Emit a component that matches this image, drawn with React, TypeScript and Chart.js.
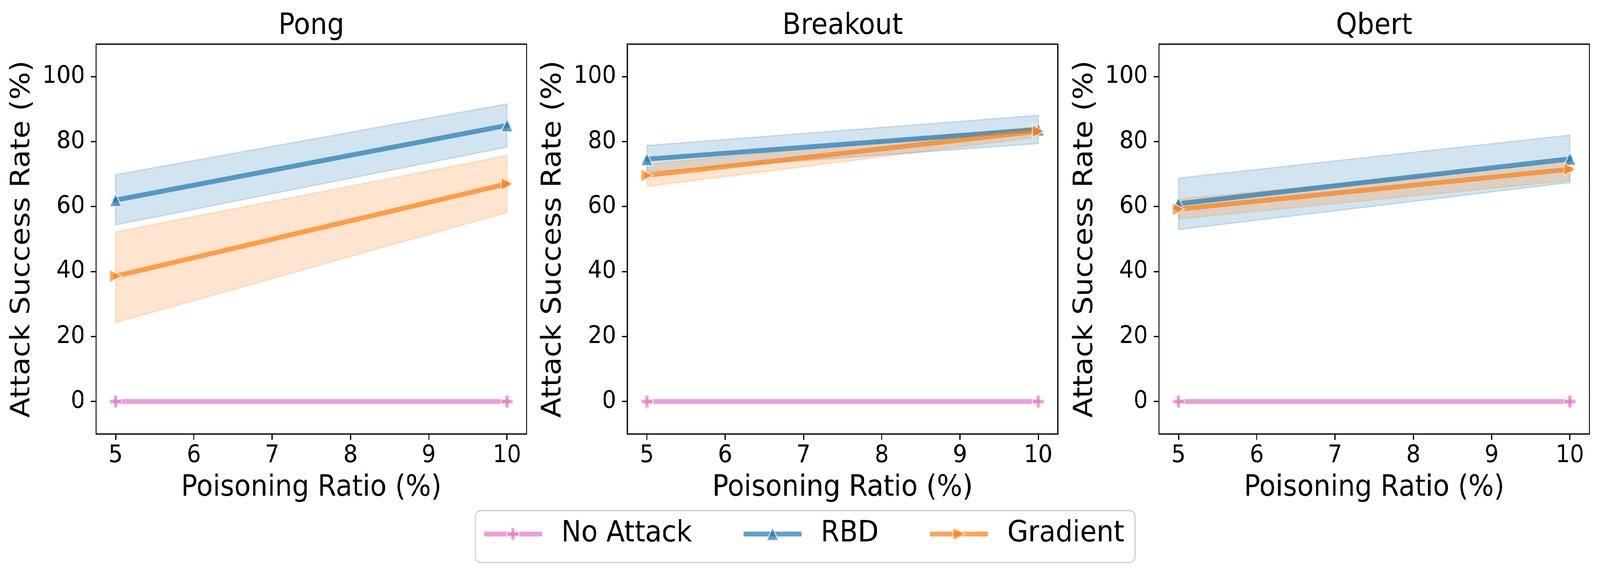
import React, { useEffect, useRef, useState } from 'react';
import { Chart, registerables } from 'chart.js';

Chart.register(...registerables);

// ---------------- data ----------------
const games = ['Pong', 'Breakout', 'Qbert'];
const seriesNames = ['No Attack', 'RBD', 'Gradient'];
const poisoningRatios = [5, 10];
const xTicks = [5, 6, 7, 8, 9, 10];
const yTicks = [0, 20, 40, 60, 80, 100];

// per game: [value at 5%, value at 10%]
const noAttackMean = [[0, 0], [0, 0], [0, 0]];
const rbdMean = [[62.0, 85.0], [74.6, 83.7], [60.9, 74.7]];
const rbdLow = [[54.4, 78.3], [70.6, 79.4], [52.9, 67.4]];
const rbdHigh = [[69.8, 91.6], [78.8, 88.1], [68.8, 82.0]];
const gradMean = [[38.6, 67.0], [69.6, 83.2], [59.2, 71.5]];
const gradLow = [[24.3, 58.2], [66.2, 81.4], [56.2, 68.0]];
const gradHigh = [[52.2, 75.7], [73.0, 84.6], [62.3, 73.8]];

// ---------------- style ----------------
const FONT = '"DejaVu Sans", sans-serif';
const W = 4471;
const H = 1477;
const panelLefts = [268.5, 1753, 3238.5];
const panelWidth = 1203;
const plotTop = 113;
const plotBottom = 1111;
const yAxisW = 260;
const xAxisH = 200;
const TICK_FS = 62.5;
const LABEL_FS = 75;

const PINK = [227, 119, 194];
const BLUE = [31, 119, 180];
const ORANGE = [255, 127, 14];
const rgba = (c: number[], a: number) => `rgba(${c[0]},${c[1]},${c[2]},${a})`;

const MS = 33;
function makeMarker(shape: 'up' | 'right' | 'plus', rgb: number[]) {
  const ew = 3;
  const pad = 6;
  const size = Math.ceil(MS + 2 * pad);
  const c = document.createElement('canvas');
  c.width = size;
  c.height = size;
  const ctx = c.getContext('2d')!;
  ctx.translate(size / 2, size / 2);
  const h = MS / 2;
  ctx.beginPath();
  if (shape === 'up') {
    ctx.moveTo(0, -h);
    ctx.lineTo(h, h);
    ctx.lineTo(-h, h);
  } else if (shape === 'right') {
    ctx.moveTo(h, 0);
    ctx.lineTo(-h, h);
    ctx.lineTo(-h, -h);
  } else {
    const a = MS / 6;
    const v = [[-1, -3], [1, -3], [1, -1], [3, -1], [3, 1], [1, 1], [1, 3], [-1, 3], [-1, 1], [-3, 1], [-3, -1], [-1, -1]];
    v.forEach((p, k) => (k === 0 ? ctx.moveTo(p[0] * a, p[1] * a) : ctx.lineTo(p[0] * a, p[1] * a)));
  }
  ctx.closePath();
  ctx.fillStyle = rgba(rgb, 0.7);
  ctx.fill();
  ctx.lineJoin = 'miter';
  ctx.lineWidth = ew;
  ctx.strokeStyle = 'rgba(255,255,255,0.7)';
  ctx.stroke();
  return c;
}

const pts = (ys: number[]) => poisoningRatios.map((x, k) => ({ x, y: ys[k] }));
const vEdge = (lo: number[], hi: number[], k: number) => [
  { x: poisoningRatios[k], y: lo[k] },
  { x: poisoningRatios[k], y: hi[k] },
];

function bandSets(lo: number[], hi: number[], col: number[], baseOrder: number) {
  const common = {
    borderColor: rgba(col, 0.2),
    borderWidth: 3.5,
    pointRadius: 0,
    pointHoverRadius: 0,
    tension: 0,
  };
  return [
    { ...common, label: 'band-hi', data: pts(hi), fill: '+1', backgroundColor: rgba(col, 0.2), order: baseOrder },
    { ...common, label: 'band-lo', data: pts(lo), fill: false, order: baseOrder - 0.1 },
    { ...common, label: 'band-e0', data: vEdge(lo, hi, 0), fill: false, order: baseOrder - 0.2 },
    { ...common, label: 'band-e1', data: vEdge(lo, hi, 1), fill: false, order: baseOrder - 0.3 },
  ];
}

function lineSet(label: string, ys: number[], col: number[], marker: HTMLCanvasElement, order: number) {
  return {
    label,
    data: pts(ys),
    borderColor: rgba(col, 0.7),
    backgroundColor: rgba(col, 0.7),
    borderWidth: 12.5,
    borderCapStyle: 'square',
    fill: false,
    tension: 0,
    pointStyle: marker,
    pointRadius: 10,
    pointHoverRadius: 10,
    order,
  };
}

const framePlugin = {
  id: 'frame',
  afterDatasetsDraw(chart: any) {
    const { ctx, chartArea: a } = chart;
    ctx.save();
    ctx.strokeStyle = '#000';
    ctx.lineWidth = 3.3;
    ctx.strokeRect(a.left, a.top, a.right - a.left, a.bottom - a.top);
    ctx.restore();
  },
};

const makeTitlePlugin = (title: string) => ({
  id: 'panelTitle',
  afterDraw(chart: any) {
    const { ctx, chartArea: a } = chart;
    ctx.save();
    ctx.font = `${LABEL_FS}px ${FONT}`;
    ctx.fillStyle = '#000';
    ctx.textAlign = 'center';
    ctx.textBaseline = 'alphabetic';
    ctx.fillText(title, (a.left + a.right) / 2, a.top - 26);
    ctx.restore();
  },
});

const makeLegendPlugin = (markers: HTMLCanvasElement[], colors: number[][]) => ({
  id: 'figLegend',
  afterDraw(chart: any) {
    const { ctx } = chart;
    const fs = LABEL_FS;
    ctx.save();
    ctx.font = `${fs}px ${FONT}`;
    const widths = seriesNames.map((s) => ctx.measureText(s).width);
    const bp = 0.4 * fs;
    const hl = 2 * fs;
    const htp = 0.8 * fs;
    const cs = 2 * fs;
    const total = 2 * bp + widths.reduce((s, w) => s + w + hl + htp, 0) + cs * (seriesNames.length - 1);
    const cx = 2250;
    const left = cx - total / 2;
    const top = 1307;
    const bottom = 1440;
    const rowY = 1367;
    ctx.beginPath();
    ctx.roundRect(left, top, total, bottom - top, 15);
    ctx.fillStyle = '#ffffff';
    ctx.fill();
    ctx.lineWidth = 4;
    ctx.strokeStyle = '#d6d6d6';
    ctx.stroke();
    let x = left + bp;
    seriesNames.forEach((name, k) => {
      ctx.beginPath();
      ctx.moveTo(x, rowY);
      ctx.lineTo(x + hl, rowY);
      ctx.lineWidth = 12.5;
      ctx.lineCap = 'square';
      ctx.strokeStyle = rgba(colors[k], 0.7);
      ctx.stroke();
      const m = markers[k];
      ctx.drawImage(m, x + hl / 2 - m.width / 2, rowY - m.height / 2);
      ctx.fillStyle = '#000';
      ctx.textAlign = 'left';
      ctx.textBaseline = 'middle';
      ctx.fillText(name, x + hl + htp, rowY);
      x += hl + htp + widths[k] + cs;
    });
    ctx.restore();
  },
});

function buildConfig(i: number, markers: HTMLCanvasElement[]) {
  const datasets: any[] = [
    ...bandSets(rbdLow[i], rbdHigh[i], BLUE, 9),
    ...bandSets(gradLow[i], gradHigh[i], ORANGE, 7),
    lineSet(seriesNames[0], noAttackMean[i], PINK, markers[0], 3),
    lineSet(seriesNames[1], rbdMean[i], BLUE, markers[1], 2),
    lineSet(seriesNames[2], gradMean[i], ORANGE, markers[2], 1),
  ];
  const tickFont = { family: FONT, size: TICK_FS };
  const titleFont = { family: FONT, size: LABEL_FS };
  const plugins: any[] = [framePlugin, makeTitlePlugin(games[i])];
  if (i === 1) plugins.push(makeLegendPlugin(markers, [PINK, BLUE, ORANGE]));
  const grid = {
    display: true,
    drawOnChartArea: false,
    drawTicks: true,
    tickLength: 15,
    tickWidth: 3.3,
    tickColor: '#000',
  };
  return {
    type: 'line',
    data: { datasets },
    plugins,
    options: {
      responsive: false,
      animation: false,
      devicePixelRatio: 1,
      events: [],
      layout: {
        autoPadding: false,
        padding: {
          left: panelLefts[i] - yAxisW,
          right: W - panelLefts[i] - panelWidth,
          top: plotTop,
          bottom: H - plotBottom - xAxisH,
        },
      },
      plugins: {
        legend: { display: false },
        tooltip: { enabled: false },
        title: { display: false },
      },
      scales: {
        x: {
          type: 'linear',
          min: 4.75,
          max: 10.25,
          afterBuildTicks: (s: any) => {
            s.ticks = xTicks.map((v) => ({ value: v }));
          },
          afterFit: (s: any) => {
            s.height = xAxisH;
          },
          ticks: {
            font: tickFont,
            color: '#000',
            padding: 3,
            maxRotation: 0,
            autoSkip: false,
            callback: (v: any) => String(v),
          },
          grid,
          border: { display: false },
          title: {
            display: true,
            text: 'Poisoning Ratio (%)',
            font: titleFont,
            color: '#000',
            padding: { top: 0, bottom: 16 },
          },
        },
        y: {
          type: 'linear',
          min: -10,
          max: 110,
          afterBuildTicks: (s: any) => {
            s.ticks = yTicks.map((v) => ({ value: v }));
          },
          afterFit: (s: any) => {
            s.width = yAxisW;
          },
          ticks: {
            font: tickFont,
            color: '#000',
            padding: 16,
            autoSkip: false,
            callback: (v: any) => String(v),
          },
          grid,
          border: { display: false },
          title: {
            display: true,
            text: 'Attack Success Rate (%)',
            font: titleFont,
            color: '#000',
            padding: { top: 9, bottom: 0 },
          },
        },
      },
    },
  };
}

export default function App() {
  const r0 = useRef<HTMLCanvasElement>(null);
  const r1 = useRef<HTMLCanvasElement>(null);
  const r2 = useRef<HTMLCanvasElement>(null);
  const refs = [r0, r1, r2];
  const [fit, setFit] = useState({ sx: 1, sy: 1 });

  useEffect(() => {
    const update = () => {
      const vw = window.innerWidth || W;
      const vh = window.innerHeight || H;
      setFit({ sx: Math.min(1, vw / W), sy: Math.min(1, vh / H) });
    };
    update();
    window.addEventListener('resize', update);
    return () => window.removeEventListener('resize', update);
  }, []);

  useEffect(() => {
    const markers = [makeMarker('plus', PINK), makeMarker('up', BLUE), makeMarker('right', ORANGE)];
    const charts = refs.map((r, i) => new Chart(r.current as HTMLCanvasElement, buildConfig(i, markers) as any));
    return () => charts.forEach((c) => c.destroy());
  }, []);

  return (
    <div style={{ position: 'fixed', left: 0, top: 0, width: '100vw', height: '100vh', background: '#ffffff', overflow: 'hidden' }}>
      <div
        style={{
          position: 'absolute',
          left: 0,
          top: 0,
          width: W,
          height: H,
          transformOrigin: '0 0',
          transform: `scale(${fit.sx}, ${fit.sy})`,
        }}
      >
        {games.map((g, i) => (
          <canvas
            key={g}
            ref={refs[i]}
            width={W}
            height={H}
            style={{ position: 'absolute', left: 0, top: 0, width: W, height: H }}
          />
        ))}
      </div>
    </div>
  );
}
